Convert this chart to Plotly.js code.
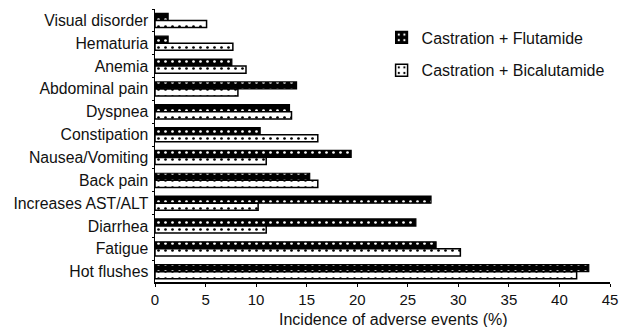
<!DOCTYPE html>
<html><head><meta charset="utf-8">
<script src="https://cdn.plot.ly/plotly-3.0.1.min.js"></script>
<style>html,body{margin:0;padding:0;background:#fff}</style>
</head><body><div id="chart" style="width:623px;height:327px"></div>
<script>
const categories = ["Visual disorder","Hematuria","Anemia","Abdominal pain","Dyspnea","Constipation","Nausea/Vomiting","Back pain","Increases AST/ALT","Diarrhea","Fatigue","Hot flushes"];
const flutamide = [1.3,1.3,7.6,14.0,13.3,10.4,19.4,15.3,27.3,25.8,27.8,42.9];
const bicalutamide = [5.1,7.7,9.0,8.2,13.5,16.1,11.0,16.1,10.2,11.0,30.2,41.7];
const seriesNames = ["Castration + Flutamide","Castration + Bicalutamide"];
const xTitle = "Incidence of adverse events (%)";

const fam = "Liberation Sans, Arial, sans-serif";
const traces = [
 {type:"bar", orientation:"h", name:seriesNames[0], y:categories, x:flutamide, legendgroup:"a",
  marker:{color:"#000", line:{color:"#000", width:1.2}, pattern:{shape:".", bgcolor:"#000", fgcolor:"#fff", size:7, solidity:0.12}}},
 {type:"bar", orientation:"h", name:seriesNames[1], y:categories, x:bicalutamide, legendgroup:"b",
  marker:{color:"#fff", line:{color:"#000", width:1.5}, pattern:{shape:".", bgcolor:"#fff", fgcolor:"#000", size:7, solidity:0.12}}}
];
const layout = {
 width:623, height:327, font:{family:fam, size:16, color:"#111"}, paper_bgcolor:"#fff", plot_bgcolor:"#fff",
 margin:{l:155, r:13, t:9, b:45},
 barmode:"group", bargap:0.38, bargroupgap:0,
 showlegend:true,
 legend:{x:0.498, y:0.958, xanchor:"left", yanchor:"top", traceorder:"grouped", tracegroupgap:9, itemwidth:30, font:{family:fam, size:16, color:"#111"}, bgcolor:"rgba(0,0,0,0)"},
 xaxis:{range:[0,45], tickvals:[0,5,10,15,20,25,30,35,40,45], ticks:"outside", ticklen:3, tickcolor:"#000", showline:true, linecolor:"#000", linewidth:1.5, showgrid:false, zeroline:false,
   tickfont:{size:15}, fixedrange:true},
 yaxis:{type:"category", range:[11.45,-0.5], ticks:"outside", tickson:"boundaries", ticklen:2, tickcolor:"#000", showline:true, linecolor:"#000", linewidth:1.5, showgrid:false, zeroline:false, ticklabelstandoff:2, tickfont:{size:15.8}},
 annotations:[{text:xTitle, xref:"paper", yref:"paper", x:0.525, y:-0.139, xanchor:"center", yanchor:"middle", showarrow:false, font:{family:fam, size:16, color:"#111"}}]
};
Plotly.newPlot("chart", traces, layout, {displayModeBar:false, staticPlot:true});
</script></body></html>
